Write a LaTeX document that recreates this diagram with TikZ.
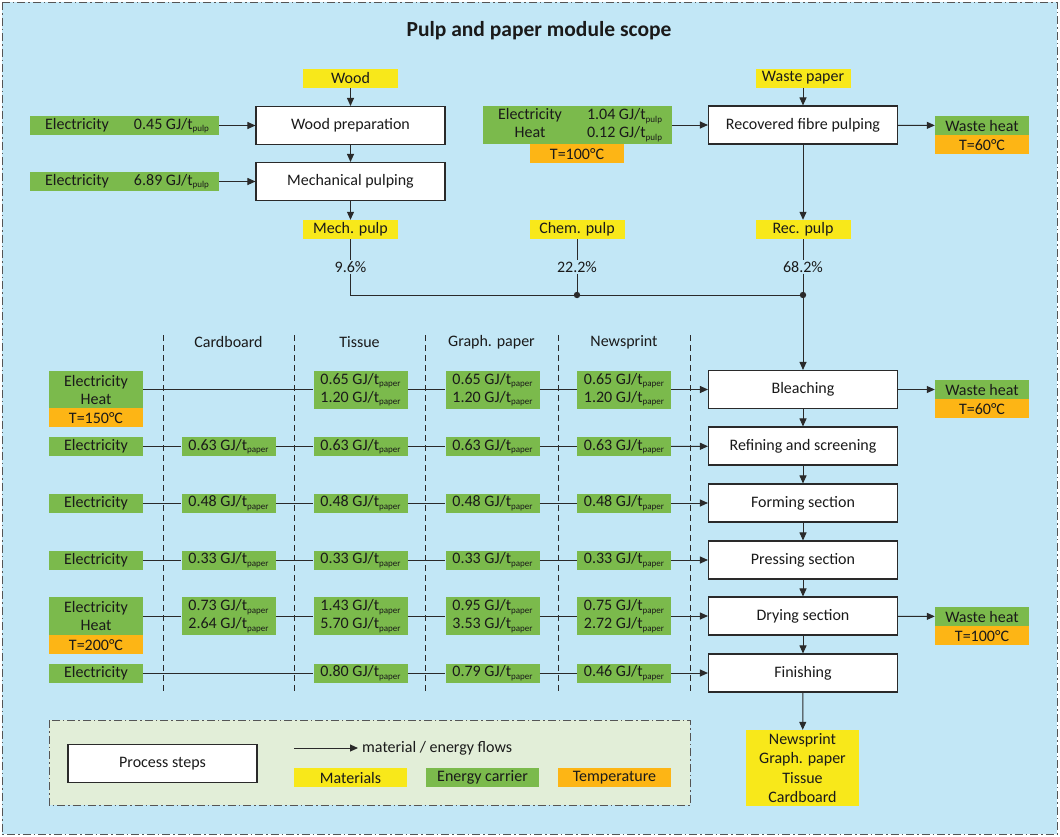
\documentclass[tikz,border=0pt]{standalone}
\usepackage{fontspec}
\setmainfont{Carlito}
\usetikzlibrary{arrows.meta}
\definecolor{bgblue}{HTML}{C2E7F6}
\definecolor{grn}{HTML}{7BBA4C}
\definecolor{yel}{HTML}{F8E81A}
\definecolor{org}{HTML}{FDB515}
\definecolor{legfill}{HTML}{E2EED8}
\definecolor{linec}{HTML}{2A2A2A}
\definecolor{txt}{HTML}{1A1A1A}
\newcommand\tsub[1]{\raisebox{-2.5pt}{\fontsize{9}{9}\selectfont #1}}
\begin{document}
\begin{tikzpicture}[x=1pt,y=-1pt,
  font=\fontsize{16}{18}\selectfont, text=txt,
  proc/.style={draw=linec, line width=1.1pt, fill=white, minimum width=189pt, minimum height=38pt, inner sep=0pt},
  mat/.style={fill=yel, minimum width=95pt, minimum height=19pt, inner sep=0pt},
  en/.style={fill=grn, minimum width=94pt, minimum height=19pt, inner sep=0pt, align=center},
  entwo/.style={en, minimum height=38pt},
  enwide/.style={fill=grn, minimum width=189pt, minimum height=19pt, inner sep=0pt},
  enwidetwo/.style={enwide, minimum height=38pt, align=center},
  tmp/.style={fill=org, minimum width=94pt, minimum height=19pt, inner sep=0pt},
  pct/.style={inner sep=1pt},
  hdr/.style={inner sep=0pt},
  flow/.style={draw=linec, line width=1pt, -{Triangle[length=8pt,width=7pt]}},
  plain/.style={draw=linec, line width=1pt},
  coldiv/.style={draw=linec, line width=0.7pt, dash pattern=on 6pt off 4pt},
  frame/.style={draw=linec!80, line width=0.8pt, dash pattern=on 8pt off 3pt on 1.5pt off 3pt}]
\useasboundingbox (0,0) rectangle (1060,836);
\fill[white] (0,0) rectangle (1060,836);
\draw[frame, fill=bgblue] (2,2) rectangle (1057,834);
\node[font=\bfseries\fontsize{21.5}{24}\selectfont] (title) at (539,31) {Pulp and paper module scope};

% column dividers
\foreach \xx in {163,294,425,558,690} \draw[coldiv] (\xx,335) -- (\xx,692);
\node[hdr] (hcb) at (228.5,342) {Cardboard};
\node[hdr] (hti) at (359.5,342) {Tissue};
\node[hdr] (hgr) at (491.5,342) {Graph. paper};
\node[hdr] (hne) at (624,342) {Newsprint};

% top left
\node[mat] (wood) at (350.5,78) {Wood};
\node[proc] (wprep) at (350.5,125.5) {Wood preparation};
\node[proc] (mpulp) at (350.5,181.5) {Mechanical pulping};
\node[enwide] (ew1) at (124.5,125.5) {\makebox[94pt]{Electricity}\makebox[95pt]{0.45 GJ/t\tsub{pulp}}};
\node[enwide] (ew2) at (124.5,181.5) {\makebox[94pt]{Electricity}\makebox[95pt]{6.89 GJ/t\tsub{pulp}}};
\node[mat] (mech) at (350.5,229.5) {Mech. pulp};
\node[pct] (p96) at (350.5,267) {9.6\%};

% top right
\node[mat] (wpaper) at (803,78) {Waste paper};
\node[proc] (rfp) at (803,125) {Recovered fibre pulping};
\node[enwidetwo] (erf) at (577.5,125) {\makebox[94pt]{Electricity}\makebox[95pt]{1.04 GJ/t\tsub{pulp}}\\\makebox[94pt]{Heat}\makebox[95pt]{0.12 GJ/t\tsub{pulp}}};
\node[tmp, anchor=north] (trf) at (577,144) {T=100°C};
\node[en, minimum width=94pt] (wh1) at (982,125.5) {Waste heat};
\node[tmp, anchor=north] (twh1) at (982,135) {T=60°C};
\node[mat] (chem) at (577,229.5) {Chem. pulp};
\node[mat] (rec) at (803,229.5) {Rec. pulp};
\node[pct] (p222) at (577,267) {22.2\%};
\node[pct] (p682) at (803,267) {68.2\%};
\coordinate (j1) at (350.5,295);
\coordinate (j2) at (577,295);
\coordinate (j3) at (803,295);

% process chain
\node[proc] (bleach) at (803,389.5) {Bleaching};
\node[proc] (refin) at (803,446) {Refining and screening};
\node[proc] (form) at (803,503) {Forming section};
\node[proc] (press) at (803,560) {Pressing section};
\node[proc] (dry) at (803,616) {Drying section};
\node[proc] (fin) at (803,673) {Finishing};
\node[fill=yel, minimum width=113pt, minimum height=76pt, inner sep=0pt, align=center, font=\fontsize{16}{19.3}\selectfont] (prod) at (802.5,768) {Newsprint\\Graph. paper\\Tissue\\Cardboard};

\node[en] (wh2) at (982,389.5) {Waste heat};
\node[tmp, anchor=north] (twh2) at (982,399) {T=60°C};
\node[en] (wh3) at (982,616.5) {Waste heat};
\node[tmp, anchor=north] (twh3) at (982,626) {T=100°C};

% left energy boxes
\node[entwo] (L1) at (96,389.5) {Electricity\\Heat};
\node[tmp, anchor=north] (TL1) at (96,408) {T=150°C};
\node[en] (L2) at (96,446.5) {Electricity};
\node[en] (L3) at (96,503) {Electricity};
\node[en] (L4) at (96,560) {Electricity};
\node[entwo] (L5) at (96,616) {Electricity\\Heat};
\node[tmp, anchor=north] (TL5) at (96,635) {T=200°C};
\node[en] (L6) at (96,673) {Electricity};

% row 1 bleaching
\node[entwo] (T1) at (360.5,389.5) {0.65 GJ/t\tsub{paper}\\1.20 GJ/t\tsub{paper}};
\node[entwo] (G1) at (492.5,389.5) {0.65 GJ/t\tsub{paper}\\1.20 GJ/t\tsub{paper}};
\node[entwo] (N1) at (624,389.5) {0.65 GJ/t\tsub{paper}\\1.20 GJ/t\tsub{paper}};
% row 2 refining
\node[en] (C2) at (228.5,446.5) {0.63 GJ/t\tsub{paper}};
\node[en] (T2) at (360.5,446.5) {0.63 GJ/t\tsub{paper}};
\node[en] (G2) at (492.5,446.5) {0.63 GJ/t\tsub{paper}};
\node[en] (N2) at (624,446.5) {0.63 GJ/t\tsub{paper}};
% row 3 forming
\node[en] (C3) at (228.5,503) {0.48 GJ/t\tsub{paper}};
\node[en] (T3) at (360.5,503) {0.48 GJ/t\tsub{paper}};
\node[en] (G3) at (492.5,503) {0.48 GJ/t\tsub{paper}};
\node[en] (N3) at (624,503) {0.48 GJ/t\tsub{paper}};
% row 4 pressing
\node[en] (C4) at (228.5,560) {0.33 GJ/t\tsub{paper}};
\node[en] (T4) at (360.5,560) {0.33 GJ/t\tsub{paper}};
\node[en] (G4) at (492.5,560) {0.33 GJ/t\tsub{paper}};
\node[en] (N4) at (624,560) {0.33 GJ/t\tsub{paper}};
% row 5 drying
\node[entwo] (C5) at (228.5,616) {0.73 GJ/t\tsub{paper}\\2.64 GJ/t\tsub{paper}};
\node[entwo] (T5) at (360.5,616) {1.43 GJ/t\tsub{paper}\\5.70 GJ/t\tsub{paper}};
\node[entwo] (G5) at (492.5,616) {0.95 GJ/t\tsub{paper}\\3.53 GJ/t\tsub{paper}};
\node[entwo] (N5) at (624,616) {0.75 GJ/t\tsub{paper}\\2.72 GJ/t\tsub{paper}};
% row 6 finishing
\node[en] (T6) at (360.5,673) {0.80 GJ/t\tsub{paper}};
\node[en] (G6) at (492.5,673) {0.79 GJ/t\tsub{paper}};
\node[en] (N6) at (624,673) {0.46 GJ/t\tsub{paper}};

% connectors top
\draw[flow] (wood) -- (wprep);
\draw[flow] (wprep) -- (mpulp);
\draw[flow] (mpulp) -- (mech);
\draw[flow] (ew1) -- (wprep);
\draw[flow] (ew2) -- (mpulp);
\draw[flow] (wpaper) -- (rfp);
\draw[flow] (erf) -- (rfp);
\draw[flow] (rfp) -- (wh1);
\draw[flow] (rfp) -- (rec);
\draw[plain] (mech) -- (p96);
\draw[plain] (chem) -- (p222);
\draw[plain] (rec) -- (p682);
\draw[plain] (p96) -- (j1) -- (j3);
\draw[plain] (p222) -- (j2);
\fill[linec] (j2) circle (3.2pt);
\fill[linec] (j3) circle (3.2pt);
\draw[flow] (p682) -- (bleach);

% chain
\draw[flow] (bleach) -- (refin);
\draw[flow] (refin) -- (form);
\draw[flow] (form) -- (press);
\draw[flow] (press) -- (dry);
\draw[flow] (dry) -- (fin);
\draw[flow] (fin) -- (prod);
\draw[flow] (bleach) -- (wh2);
\draw[flow] (dry) -- (wh3);

% rows
\draw[plain] (L1) -- (T1); \draw[plain] (T1) -- (G1); \draw[plain] (G1) -- (N1); \draw[flow] (N1) -- (bleach);
\draw[plain] (L2) -- (C2); \draw[plain] (C2) -- (T2); \draw[plain] (T2) -- (G2); \draw[plain] (G2) -- (N2); \draw[flow] (N2) -- (refin);
\draw[plain] (L3) -- (C3); \draw[plain] (C3) -- (T3); \draw[plain] (T3) -- (G3); \draw[plain] (G3) -- (N3); \draw[flow] (N3) -- (form);
\draw[plain] (L4) -- (C4); \draw[plain] (C4) -- (T4); \draw[plain] (T4) -- (G4); \draw[plain] (G4) -- (N4); \draw[flow] (N4) -- (press);
\draw[plain] (L5) -- (C5); \draw[plain] (C5) -- (T5); \draw[plain] (T5) -- (G5); \draw[plain] (G5) -- (N5); \draw[flow] (N5) -- (dry);
\draw[plain] (L6) -- (T6); \draw[plain] (T6) -- (G6); \draw[plain] (G6) -- (N6); \draw[flow] (N6) -- (fin);

% legend
\draw[frame, fill=legfill] (49,720) rectangle (690,805);
\node[proc] (lproc) at (162.5,763.5) {Process steps};
\coordinate (la) at (294,748);
\coordinate (lb) at (358,748);
\draw[flow] (la) -- (lb);
\node[anchor=west, inner sep=0pt] (lflow) at (362,748) {material / energy flows};
\node[mat, minimum width=113pt] (lmat) at (350.5,777.5) {Materials};
\node[fill=grn, minimum width=113pt, minimum height=19pt, inner sep=0pt] (len) at (482.5,777.5) {Energy carrier};
\node[fill=org, minimum width=113pt, minimum height=19pt, inner sep=0pt] (ltmp) at (614.5,777.5) {Temperature};
\end{tikzpicture}
\end{document}
